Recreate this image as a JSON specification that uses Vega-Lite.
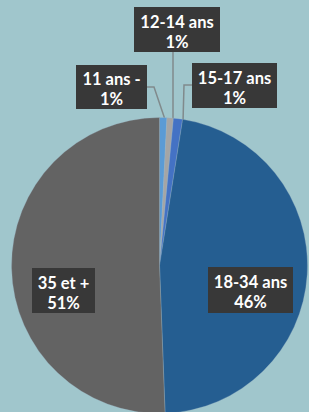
{
  "$schema": "https://vega.github.io/schema/vega-lite/v6.json",
  "width": 309,
  "height": 412,
  "autosize": {"type": "none"},
  "padding": 0,
  "background": "#a0c6cc",
  "config": {"view": {"stroke": null}},
  "datasets": {
    "slices": [
      {"cat": "11 ans -", "v": 0.8, "i": 1},
      {"cat": "12-14 ans", "v": 0.7, "i": 2},
      {"cat": "15-17 ans", "v": 1.0, "i": 3},
      {"cat": "18-34 ans", "v": 46.9, "i": 4},
      {"cat": "35 et +", "v": 50.6, "i": 5}
    ],
    "labels": [
      {"cat": "11 ans -", "txt": "11 ans -\n1%", "lx": -48, "ly": 178.5},
      {"cat": "12-14 ans", "txt": "12-14 ans\n1%", "lx": 17.5, "ly": 236},
      {"cat": "15-17 ans", "txt": "15-17 ans\n1%", "lx": 75, "ly": 180},
      {"cat": "18-34 ans", "txt": "18-34 ans\n46%", "lx": 91, "ly": -24.5},
      {"cat": "35 et +", "txt": "35 et +\n51%", "lx": -96, "ly": -25}
    ],
    "leaders": [
      {"cat": "11 ans -", "k": 1, "px": -12.5, "py": 178.5},
      {"cat": "11 ans -", "k": 2, "px": -5.5, "py": 178.5},
      {"cat": "11 ans -", "k": 3, "px": 5, "py": 147.5},
      {"cat": "12-14 ans", "k": 1, "px": 13.5, "py": 213.5},
      {"cat": "12-14 ans", "k": 2, "px": 13.5, "py": 145.5},
      {"cat": "15-17 ans", "k": 1, "px": 32.5, "py": 180.5},
      {"cat": "15-17 ans", "k": 2, "px": 24.5, "py": 180.5},
      {"cat": "15-17 ans", "k": 3, "px": 23.5, "py": 143.5}
    ]
  },
  "resolve": {"scale": {"color": "independent", "shape": "independent"}},
  "layer": [
    {
      "data": {"name": "leaders"},
      "mark": {"type": "line", "color": "#808a8c", "strokeWidth": 1.5},
      "encoding": {
        "x": {"field": "px", "type": "quantitative", "scale": {"domain": [-159.5, 149.5], "nice": false, "zero": false}, "axis": null},
        "y": {"field": "py", "type": "quantitative", "scale": {"domain": [-146.5, 265.5], "nice": false, "zero": false}, "axis": null},
        "detail": {"field": "cat"},
        "order": {"field": "k"}
      }
    },
    {
      "data": {"name": "slices"},
      "mark": {"type": "arc", "outerRadius": 148, "stroke": "#9fb9c9", "strokeWidth": 0.3},
      "encoding": {
        "x": {"datum": 0, "type": "quantitative"},
        "y": {"datum": 0, "type": "quantitative"},
        "theta": {"field": "v", "type": "quantitative", "stack": true},
        "order": {"field": "i"},
        "color": {
          "field": "cat",
          "type": "nominal",
          "scale": {
            "domain": ["11 ans -", "12-14 ans", "15-17 ans", "18-34 ans", "35 et +"],
            "range": ["#5b9bd5", "#a5a5a5", "#4472c4", "#255e91", "#636363"]
          },
          "legend": null
        }
      }
    },
    {
      "data": {"name": "labels"},
      "mark": {"type": "point", "filled": true, "size": 4, "color": "#383838", "opacity": 1, "strokeWidth": 0},
      "encoding": {
        "x": {"field": "lx", "type": "quantitative"},
        "y": {"field": "ly", "type": "quantitative"},
        "shape": {
          "field": "cat",
          "type": "nominal",
          "scale": {
            "domain": ["11 ans -", "12-14 ans", "15-17 ans", "18-34 ans", "35 et +"],
            "range": [
              "M-35.5,-22H35.5V22H-35.5Z",
              "M-43,-22.5H43V22.5H-43Z",
              "M-42.5,-22.5H42.5V22.5H-42.5Z",
              "M-42.5,-23H42.5V23H-42.5Z",
              "M-31.5,-22.5H31.5V22.5H-31.5Z"
            ]
          },
          "legend": null
        }
      }
    },
    {
      "data": {"name": "labels"},
      "mark": {"type": "text", "color": "#ffffff", "font": "Lato", "fontWeight": "bold", "fontSize": 16.5, "lineHeight": 20, "lineBreak": "\n", "align": "center", "baseline": "middle", "dy": -7},
      "encoding": {
        "x": {"field": "lx", "type": "quantitative"},
        "y": {"field": "ly", "type": "quantitative"},
        "text": {"field": "txt"}
      }
    }
  ]
}
